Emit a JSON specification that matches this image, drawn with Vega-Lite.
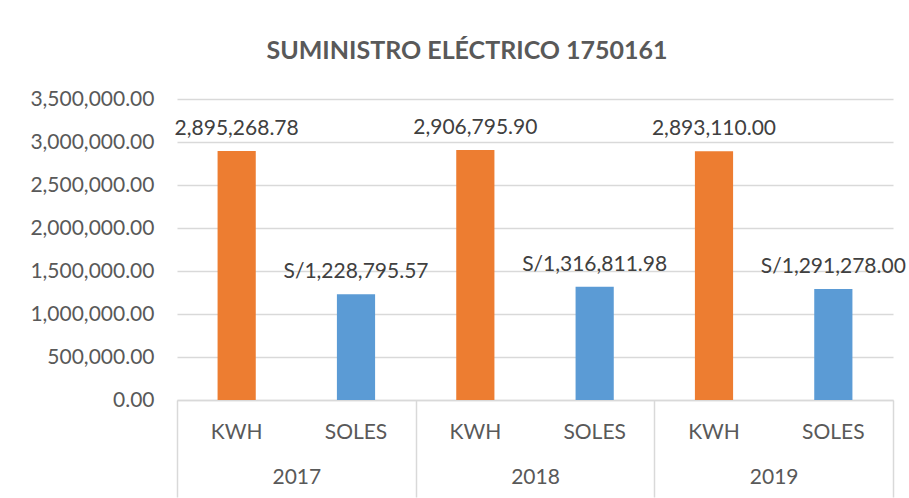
{
  "$schema": "https://vega.github.io/schema/vega-lite/v6.json",
  "width": 716,
  "height": 301,
  "autosize": {"type": "none"},
  "padding": {"left": 177, "top": 99, "right": 16, "bottom": 98},
  "background": "white",
  "config": {
    "font": "Lato",
    "view": {"stroke": null}
  },
  "title": {
    "text": "SUMINISTRO ELÉCTRICO 1750161",
    "fontSize": 25,
    "fontWeight": "bold",
    "color": "#595959",
    "anchor": "middle",
    "baseline": "middle",
    "offset": 12,
    "dx": -68
  },
  "data": {
    "values": [
      {"year": "2017", "type": "KWH", "value": 2895268.78},
      {"year": "2017", "type": "SOLES", "value": 1228795.57},
      {"year": "2018", "type": "KWH", "value": 2906795.90},
      {"year": "2018", "type": "SOLES", "value": 1316811.98},
      {"year": "2019", "type": "KWH", "value": 2893110.00},
      {"year": "2019", "type": "SOLES", "value": 1291278.00}
    ]
  },
  "transform": [
    {"calculate": "(datum.type === 'SOLES' ? 'S/' : '') + format(datum.value, ',.2f')", "as": "label"}
  ],
  "encoding": {
    "x": {
      "field": "year",
      "type": "nominal",
      "title": null,
      "scale": {"paddingInner": 0, "paddingOuter": 0},
      "axis": {
        "labelAngle": 0,
        "labelFontSize": 21,
        "labelColor": "#595959",
        "labelBaseline": "middle",
        "labelPadding": -20,
        "tickBand": "extent",
        "tickSize": 97,
        "tickColor": "#D9D9D9",
        "tickWidth": 1.5,
        "domainColor": "#D9D9D9",
        "domainWidth": 1.5,
        "grid": false
      }
    },
    "xOffset": {
      "field": "type",
      "type": "nominal",
      "scale": {"paddingInner": 0.68, "paddingOuter": 0.34}
    }
  },
  "layer": [
    {
      "mark": {"type": "bar"},
      "encoding": {
        "y": {
          "field": "value",
          "type": "quantitative",
          "title": null,
          "scale": {"domain": [0, 3500000], "nice": false},
          "axis": {
            "values": [0, 500000, 1000000, 1500000, 2000000, 2500000, 3000000, 3500000],
            "format": ",.2f",
            "labelFontSize": 21,
            "labelColor": "#595959",
            "labelPadding": 23,
            "ticks": false,
            "domain": false,
            "gridColor": "#D9D9D9",
            "gridWidth": 1.5
          }
        },
        "color": {
          "field": "type",
          "type": "nominal",
          "scale": {"domain": ["KWH", "SOLES"], "range": ["#ED7D31", "#5B9BD5"]},
          "legend": null
        }
      }
    },
    {
      "mark": {"type": "text", "baseline": "middle", "dy": -22, "fontSize": 21, "color": "#404040"},
      "encoding": {
        "y": {"field": "value", "type": "quantitative"},
        "text": {"field": "label"}
      }
    },
    {
      "mark": {"type": "text", "baseline": "middle", "dy": 33, "fontSize": 21, "color": "#595959"},
      "encoding": {
        "y": {"datum": 0},
        "text": {"field": "type"}
      }
    }
  ]
}
